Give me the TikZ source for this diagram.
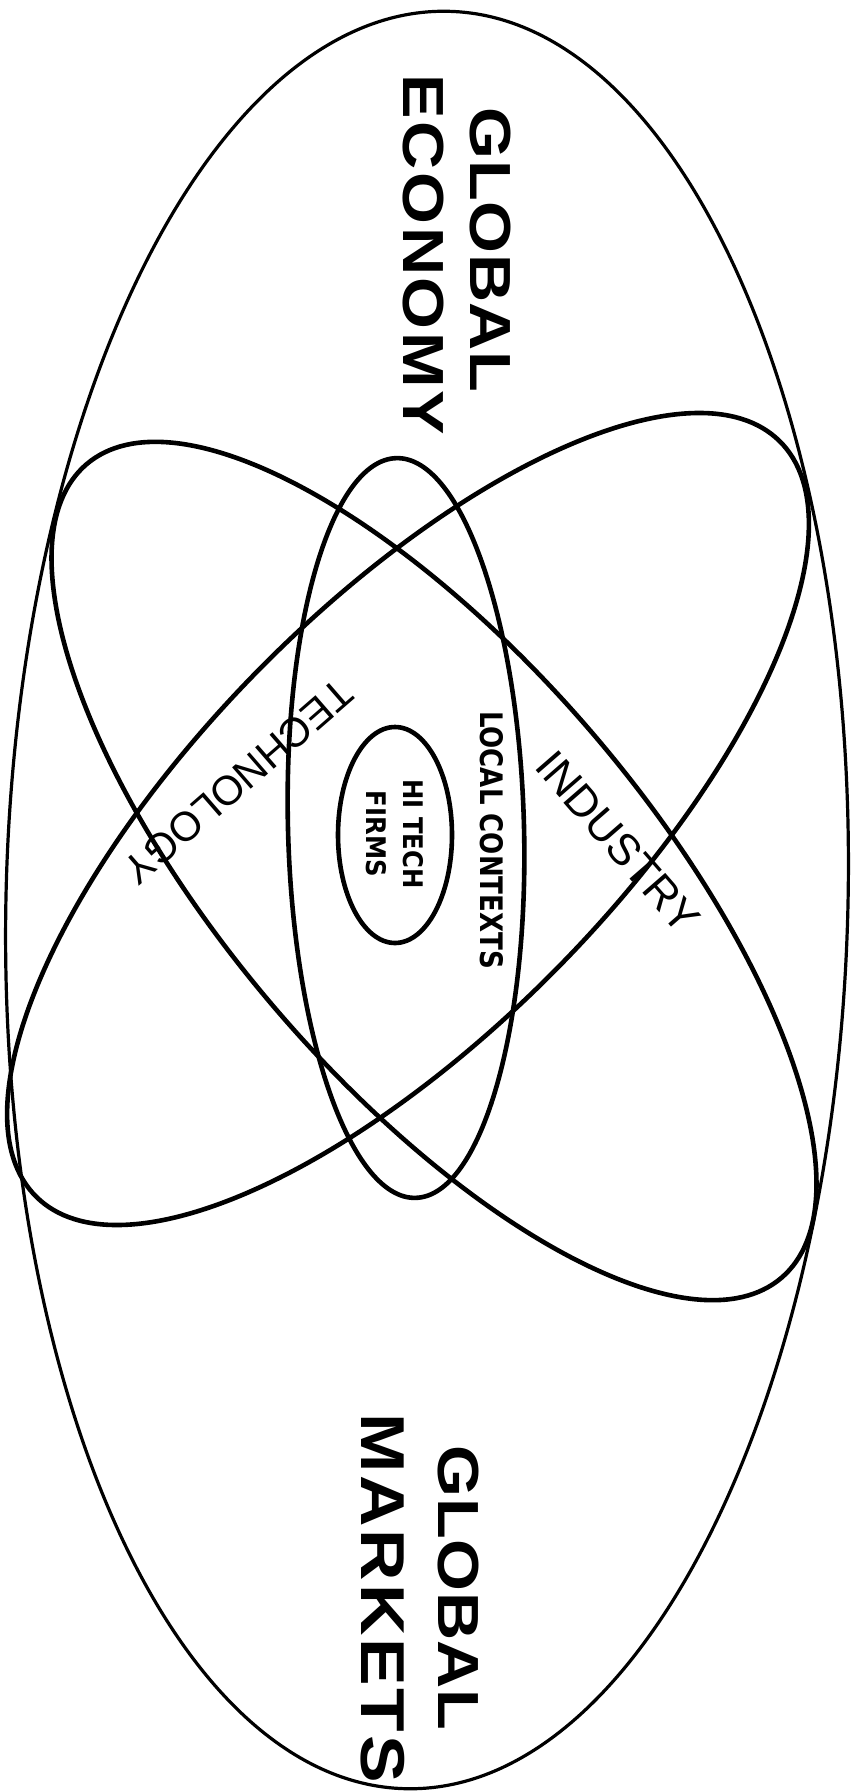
\documentclass[tikz,border=0pt]{standalone}
\usepackage{fontspec}
\setmainfont{Liberation Sans}
\newfontfamily\heavyfont{DejaVu Sans}
\usepackage{tikz}
\usetikzlibrary{shapes.geometric}
\tikzset{
  ring/.style={draw,ellipse,inner sep=0pt,line width=2.3pt},
  thinring/.style={ring,line width=1.6pt},
  bigword/.style={font=\bfseries\fontsize{29}{34}\selectfont,rotate=-90,xscale=1.15,inner sep=0pt},
  midword/.style={font=\fontsize{22}{26}\selectfont,inner sep=0pt},
  smallword/.style={font=\heavyfont\bfseries\fontsize{13.5}{18.5}\selectfont,rotate=-90,align=center,inner sep=0pt}}

\begin{document}
\begin{tikzpicture}[x=0.5pt,y=-0.5pt]
\useasboundingbox (0,0) rectangle (854,1792);
% rings
\node[thinring, minimum width=421pt, minimum height=889pt, rotate=-1.4] (world) at (427,900) {};
\node[ring, minimum width=535pt, minimum height=210pt, rotate=-49.5] (indring) at (434,871) {};
\node[ring, minimum width=530pt, minimum height=211pt, rotate=45.5] (techring) at (408,819) {};
\node[ring, minimum width=118pt, minimum height=370pt, rotate=1.5] (local) at (406,828) {};
\node[ring, minimum width=57pt, minimum height=108pt] (core) at (395,835) {};
% labels
\node[bigword] (glob1) at (490,250) {\addfontfeature{LetterSpace=1}GLOBAL};
\node[bigword] (econ) at (423,255) {\addfontfeature{LetterSpace=4}ECONOMY};
\node[bigword] (glob2) at (458,1588) {\addfontfeature{LetterSpace=1}GLOBAL};
\node[bigword, font=\bfseries\fontsize{31}{34}\selectfont] (mkts) at (383,1598) {\addfontfeature{LetterSpace=4}MARKETS};
\node[midword, rotate=-49] (indlbl) at (618,842) {INDUSTRY};
\node[midword, rotate=221, font=\fontsize{20.6}{24}\selectfont] (techlbl) at (238,782) {TECHNOLOGY};
\node[smallword, font=\heavyfont\bfseries\fontsize{15.5}{20}\selectfont, xscale=0.84] (loclbl) at (492,840) {LOCAL CONTEXTS};
\node[smallword, xscale=0.9] (firms) at (395,834) {HI TECH\\FIRMS};
\end{tikzpicture}
\end{document}
